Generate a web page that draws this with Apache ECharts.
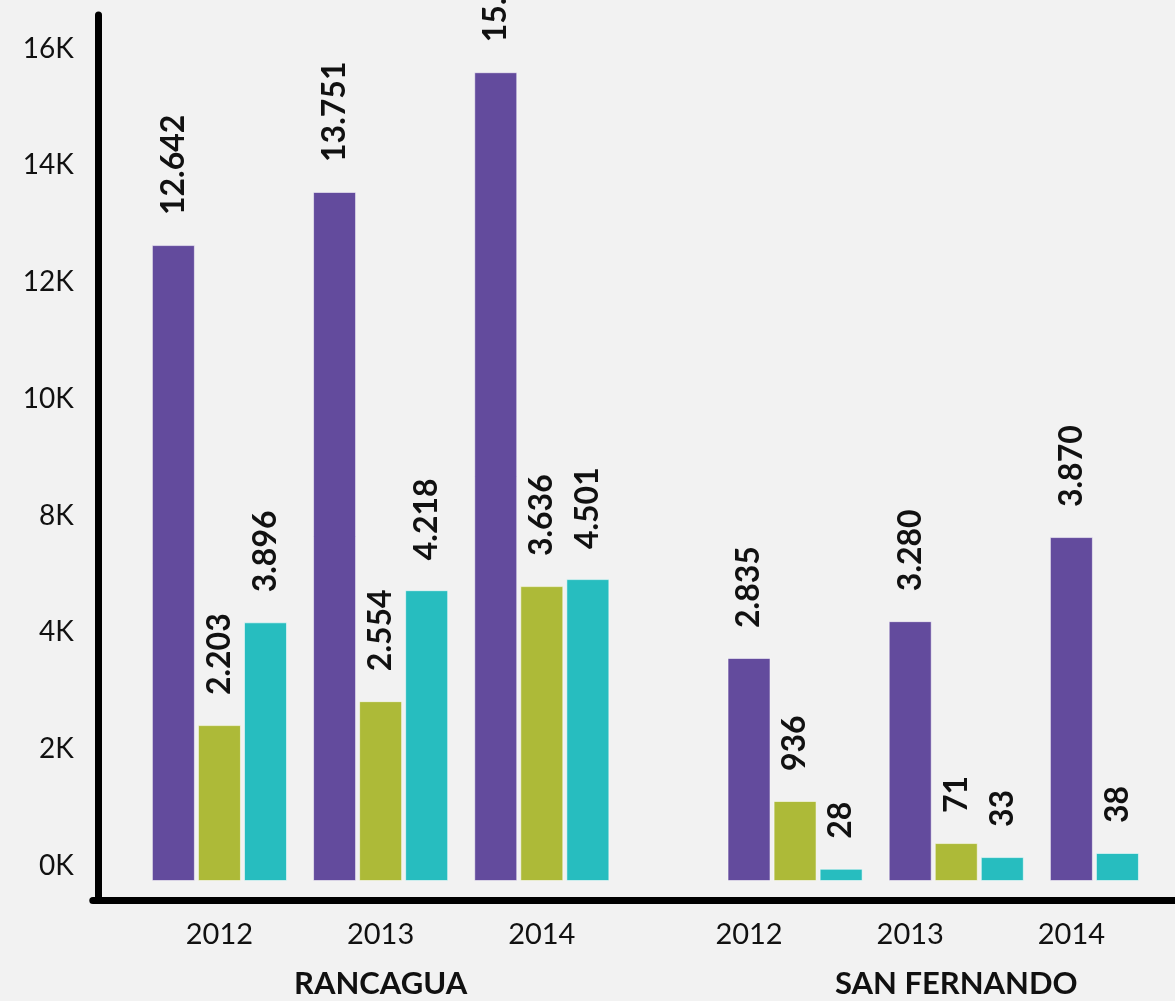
<!DOCTYPE html>
<html>
<head>
<meta charset="utf-8">
<script src="https://cdn.jsdelivr.net/npm/echarts@6/dist/echarts.min.js"></script>
<style>
    html, body { margin: 0; background: #f2f2f2; }
    #chart { width: 1175px; height: 1001px; }
</style>
</head>
<body>
<div id="chart"></div>
<script>
const cities = ['RANCAGUA', 'SAN FERNANDO'];
const years = ['2012', '2013', '2014'];

// bar heights (axis units, one tick step = 2)
const purpleValues = [10.89, 11.80, 13.85, 3.82, 4.45, 5.89];
const greenValues = [2.67, 3.08, 5.05, 1.37, 0.65, null];
const cyanValues = [4.43, 4.98, 5.17, 0.21, 0.41, 0.48];

// value labels as printed above the bars
const purpleLabels = ['12.642', '13.751', '15.598', '2.835', '3.280', '3.870'];
const greenLabels = ['2.203', '2.554', '3.636', '936', '71', null];
const cyanLabels = ['3.896', '4.218', '4.501', '28', '33', '38'];

const yTicks = [0, 2, 4, 6, 8, 10, 12, 14];
const yTickLabels = ['0K', '2K', '4K', '8K', '10K', '12K', '14K', '16K'];

const FONT = 'Lato, "Noto Sans", sans-serif';
const SLOT = 23.2; // half a bar pitch
const LEAD = 3;    // empty slots before the first bar

const seriesDefs = [
    { values: purpleValues, labels: purpleLabels, color: '#634b9d' },
    { values: greenValues, labels: greenLabels, color: '#adba38' },
    { values: cyanValues, labels: cyanLabels, color: '#27bdbf' },
];

// lay the bars out on slots: missing bars are skipped, not left empty
const barAt = {};
const yearLabelAt = {};
const cityLabelAt = {};
let pos = LEAD;
let lastSlot = 0;
cities.forEach((city, c) => {
    years.forEach((year, y) => {
        const g = c * years.length + y;
        const start = pos;
        seriesDefs.forEach((s, si) => {
            if (s.values[g] == null) return;
            barAt[pos] = { si, g };
            lastSlot = pos;
            pos += 2;
        });
        yearLabelAt[start + (c === 0 ? 2 : 0)] = year;
        if (y === 1) cityLabelAt[start + 2] = city;
        pos += 1;
    });
    pos += 4;
});
const slotCount = lastSlot + 3;
const slots = Array.from({ length: slotCount }, (_, i) => String(i));

const series = seriesDefs.map((s, si) => {
    const data = slots.map((_, i) => (barAt[i] && barAt[i].si === si ? s.values[barAt[i].g] : null));
    return {
        type: 'bar',
        data,
        barWidth: 43,
        barGap: '-100%',
        itemStyle: { color: s.color, borderColor: 'rgba(255,255,255,0.55)', borderWidth: 1 },
        label: {
            show: true,
            position: 'top',
            rotate: 90,
            align: 'left',
            verticalAlign: 'middle',
            distance: 30,
            fontFamily: FONT,
            fontSize: 32,
            fontWeight: 'bold',
            color: '#111',
            formatter: (p) => s.labels[barAt[p.dataIndex].g],
        },
    };
});

const chart = echarts.init(document.getElementById('chart'));
chart.setOption({
    animation: false,
    backgroundColor: '#f2f2f2',
    grid: { left: 92.8, top: 15, bottom: 101, width: slotCount * SLOT },
    xAxis: [
        {
            type: 'category',
            data: slots,
            axisLine: { onZero: false, lineStyle: { color: '#000', width: 7 } },
            axisTick: { show: false },
            axisLabel: {
                interval: 0,
                margin: 20,
                fontFamily: FONT,
                fontSize: 29,
                color: '#111',
                formatter: (v, i) => yearLabelAt[i] || '',
            },
        },
        {
            type: 'category',
            data: slots,
            position: 'bottom',
            offset: 62,
            axisLine: { show: false },
            axisTick: { show: false },
            axisLabel: {
                interval: 0,
                margin: 6,
                fontFamily: FONT,
                fontSize: 31,
                fontWeight: 'bold',
                color: '#111',
                formatter: (v, i) => cityLabelAt[i] || '',
            },
        },
    ],
    yAxis: {
        type: 'value',
        min: -0.325,
        max: 14.83,
        offset: -5,
        axisLine: { show: true, lineStyle: { color: '#000', width: 7 } },
        axisTick: { show: false },
        splitLine: { show: false },
        axisLabel: {
            customValues: yTicks,
            margin: 24,
            verticalAlign: 'bottom',
            lineHeight: 30,
            fontFamily: FONT,
            fontSize: 28,
            color: '#111',
            formatter: (v) => yTickLabels[yTicks.indexOf(v)],
        },
    },
    series,
});
</script>
</body>
</html>
